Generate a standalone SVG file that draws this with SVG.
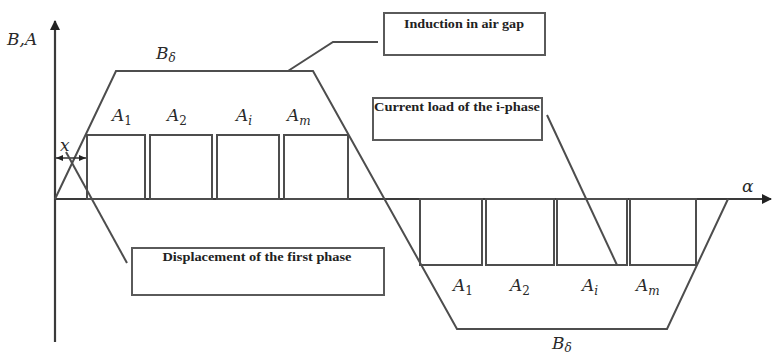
<svg xmlns="http://www.w3.org/2000/svg" width="772" height="356" viewBox="0 0 772 356">
<style>
.ln{fill:none;stroke:#4d4d4d;stroke-width:2;stroke-linejoin:miter}
.ax{fill:none;stroke:#3a3a3a;stroke-width:2.2}
.box{fill:#fff;stroke:#5a5a5a;stroke-width:2}
.cap{font-family:"Liberation Serif",serif;font-weight:bold;font-size:12.5px;fill:#222}
.m{font-family:"DejaVu Serif","Liberation Serif",serif;font-style:italic;font-size:17px;fill:#2a2a2a}
.s{font-size:12px}
.u{font-style:normal}
</style>
<defs>
<marker id="arr" markerWidth="10" markerHeight="10" refX="9" refY="5" orient="auto" markerUnits="userSpaceOnUse"><path d="M0,0 L10,5 L0,10 Z" fill="#222"/></marker>
<marker id="dim" markerWidth="7" markerHeight="6" refX="7" refY="3" orient="auto-start-reverse" markerUnits="userSpaceOnUse"><path d="M0,0 L7,3 L0,6 Z" fill="#222"/></marker>
</defs>
<rect width="772" height="356" fill="#fff"/>
<g id="axes">
<line class="ax" x1="55" y1="342" x2="55" y2="21" marker-end="url(#arr)"/>
<line class="ax" x1="55" y1="199" x2="771" y2="199" marker-end="url(#arr)"/>
<text class="m" x="7" y="45">B,A</text>
<text class="m" x="742" y="192">α</text>
</g>
<g id="induction-curve">
<polyline class="ln" points="55,199 116,71 313,71 457,329 667,329 728,199"/>
<text class="m" x="156" y="59">B<tspan class="s" dy="3">δ</tspan></text>
<text class="m" x="552" y="349">B<tspan class="s" dy="3">δ</tspan></text>
</g>
<g id="upper-phases">
<rect class="ln" x="87" y="135" width="58" height="64"/>
<rect class="ln" x="150" y="135" width="62" height="64"/>
<rect class="ln" x="217" y="135" width="62" height="64"/>
<rect class="ln" x="284" y="135" width="64" height="64"/>
<text class="m" x="112" y="121">A<tspan class="s u" dy="4">1</tspan></text>
<text class="m" x="167" y="121">A<tspan class="s u" dy="4">2</tspan></text>
<text class="m" x="236" y="121">A<tspan class="s" dy="4">i</tspan></text>
<text class="m" x="287" y="121">A<tspan class="s" dy="4">m</tspan></text>
</g>
<g id="lower-phases">
<rect class="ln" x="420" y="199" width="62" height="66"/>
<rect class="ln" x="486" y="199" width="68" height="66"/>
<rect class="ln" x="557" y="199" width="70" height="66"/>
<rect class="ln" x="630" y="199" width="66" height="66"/>
<text class="m" x="453" y="291">A<tspan class="s u" dy="4">1</tspan></text>
<text class="m" x="510" y="291">A<tspan class="s u" dy="4">2</tspan></text>
<text class="m" x="582" y="291">A<tspan class="s" dy="4">i</tspan></text>
<text class="m" x="636" y="291">A<tspan class="s" dy="4">m</tspan></text>
</g>
<g id="dimension-x">
<line x1="56" y1="158" x2="86" y2="158" stroke="#333" stroke-width="1.5" marker-start="url(#dim)" marker-end="url(#dim)"/>
<text class="m" x="60" y="151">x</text>
</g>
<g id="connectors">
<polyline class="ln" points="378,42 333,42 288,71"/>
<line class="ln" x1="547" y1="115" x2="617" y2="265"/>
<line class="ln" x1="66" y1="152" x2="127" y2="263"/>
</g>
<g id="box-induction">
<rect class="box" x="384" y="13" width="161" height="42"/>
<text class="cap" x="464" y="28" text-anchor="middle" textLength="120" lengthAdjust="spacingAndGlyphs">Induction in air gap</text>
</g>
<g id="box-current">
<rect class="box" x="373" y="98" width="169" height="42"/>
<text class="cap" x="374" y="111" textLength="166" lengthAdjust="spacingAndGlyphs">Current load of the i-phase</text>
</g>
<g id="box-displacement">
<rect class="box" x="132" y="248" width="252" height="47"/>
<text class="cap" x="257" y="261" text-anchor="middle" textLength="189" lengthAdjust="spacingAndGlyphs">Displacement of the first phase</text>
</g>
</svg>
